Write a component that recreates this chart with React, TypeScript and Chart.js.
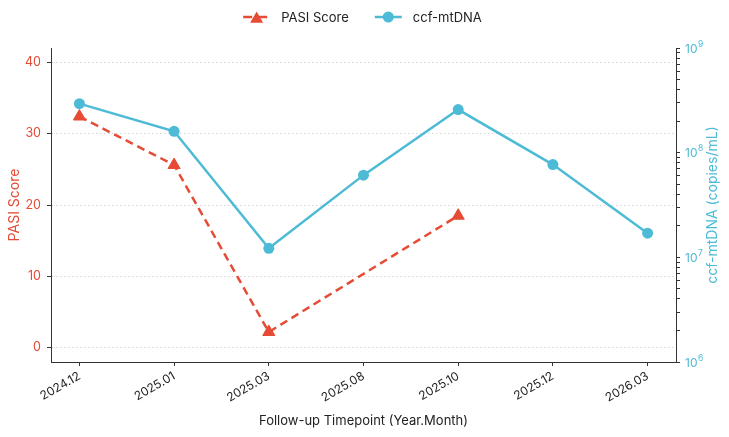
import React, { useEffect, useRef } from 'react';
import { Chart, registerables } from 'chart.js';

Chart.register(...registerables);

// ---- Data ----
const timepoints = ['2024.12', '2025.01', '2025.03', '2025.08', '2025.10', '2025.12', '2026.03'];
const pasiScore: (number | null)[] = [32.4, 25.6, 2.2, null, 18.5, null, null];
const ccfMtDNA: number[] = [2.94e8, 1.6e8, 1.22e7, 6.1e7, 2.58e8, 7.7e7, 1.7e7];
const pasiTicks = [0, 10, 20, 30, 40];
const logExponents = [6, 7, 8, 9];

const RED = '#E64B35';
const BLUE = '#4DBBD5';
const INK = '#222222';
const AXIS = '#333333';
const FONT = 'Inter, "DejaVu Sans", sans-serif';

const legendPlugin = {
  id: 'topLegend',
  afterDraw(chart: any) {
    const ctx: CanvasRenderingContext2D = chart.ctx;
    const datasets = chart.data.datasets;
    ctx.save();
    ctx.font = `13px ${FONT}`;
    const handle = 27;
    const pad = 11;
    const gap = 26;
    const widths = datasets.map((d: any) => ctx.measureText(d.label).width);
    let total = 0;
    datasets.forEach((_: any, i: number) => {
      total += handle + pad + widths[i];
    });
    total += gap * (datasets.length - 1);
    let x = chart.width / 2 - total / 2 - 2;
    const y = 17;
    datasets.forEach((d: any, i: number) => {
      ctx.strokeStyle = d.borderColor;
      ctx.lineWidth = d.borderWidth;
      ctx.setLineDash(d.borderDash ? [9, 6] : []);
      ctx.beginPath();
      ctx.moveTo(x, y);
      ctx.lineTo(x + handle, y);
      ctx.stroke();
      ctx.setLineDash([]);
      const cx = x + handle / 2;
      ctx.fillStyle = d.pointBackgroundColor;
      ctx.beginPath();
      if (d.pointStyle === 'triangle') {
        const r = d.pointRadius + 0.5;
        ctx.moveTo(cx, y - r * 0.75);
        ctx.lineTo(cx + (r * Math.sqrt(3)) / 2, y + r * 0.75);
        ctx.lineTo(cx - (r * Math.sqrt(3)) / 2, y + r * 0.75);
        ctx.closePath();
      } else {
        ctx.arc(cx, y, d.pointRadius, 0, Math.PI * 2);
      }
      ctx.fill();
      ctx.fillStyle = INK;
      ctx.textAlign = 'left';
      ctx.textBaseline = 'middle';
      ctx.fillText(d.label, x + handle + pad, y + 1);
      x += handle + pad + widths[i] + gap;
    });
    ctx.restore();
  },
};

const rightAxisTextPlugin = {
  id: 'rightAxisText',
  afterDraw(chart: any) {
    const ctx: CanvasRenderingContext2D = chart.ctx;
    const area = chart.chartArea;
    const scale = chart.scales.y1;
    ctx.save();
    // tick labels 10^n with a raised exponent
    ctx.fillStyle = BLUE;
    ctx.textAlign = 'left';
    ctx.textBaseline = 'middle';
    const lx = scale.left + 4 + 5;
    logExponents.forEach((e) => {
      const y = scale.getPixelForValue(Math.pow(10, e));
      ctx.font = `12px ${FONT}`;
      ctx.fillText('10', lx, y + 1);
      const w = ctx.measureText('10').width;
      ctx.font = `8.5px ${FONT}`;
      ctx.fillText(String(e), lx + w + 0.5, y - 4);
    });
    // axis title, reading bottom to top
    ctx.translate(713, (area.top + area.bottom) / 2);
    ctx.rotate(-Math.PI / 2);
    ctx.font = `14px ${FONT}`;
    ctx.textAlign = 'center';
    ctx.fillText('ccf-mtDNA (copies/mL)', 0, 0);
    ctx.restore();
  },
};

export default function App() {
  const canvasRef = useRef<HTMLCanvasElement | null>(null);

  useEffect(() => {
    document.body.style.margin = '0';
    const canvas = canvasRef.current;
    if (!canvas) return;

    const logTicks: { value: number }[] = [];
    logExponents.forEach((e, idx) => {
      if (idx === logExponents.length - 1) {
        logTicks.push({ value: Math.pow(10, e) });
      } else {
        for (let m = 1; m <= 9; m++) logTicks.push({ value: m * Math.pow(10, e) });
      }
    });

    const chart = new Chart(canvas, {
      type: 'line',
      data: {
        datasets: [
          {
            label: 'PASI Score',
            data: timepoints.map((_, i) => ({ x: i, y: pasiScore[i] })) as any,
            yAxisID: 'y',
            borderColor: RED,
            backgroundColor: RED,
            borderWidth: 2.5,
            borderDash: [8, 5],
            pointStyle: 'triangle',
            pointRadius: 7,
            pointBorderWidth: 1,
            pointBackgroundColor: RED,
            pointBorderColor: RED,
            spanGaps: true,
            tension: 0,
            order: 2,
          } as any,
          {
            label: 'ccf-mtDNA',
            data: timepoints.map((_, i) => ({ x: i, y: ccfMtDNA[i] })),
            yAxisID: 'y1',
            borderColor: BLUE,
            backgroundColor: BLUE,
            borderWidth: 2.5,
            pointStyle: 'circle',
            pointRadius: 5.5,
            pointBorderWidth: 0,
            pointBackgroundColor: BLUE,
            pointBorderColor: BLUE,
            tension: 0,
            order: 1,
          } as any,
        ],
      },
      options: {
        responsive: false,
        animation: false,
        devicePixelRatio: 1,
        layout: { padding: { top: 48, left: 0, right: 0, bottom: 0 } },
        plugins: {
          legend: { display: false },
          tooltip: { enabled: false },
        },
        scales: {
          x: {
            type: 'linear',
            position: 'bottom',
            min: -0.3,
            max: 6.3,
            afterBuildTicks: (s: any) => {
              s.ticks = timepoints.map((_, i) => ({ value: i }));
            },
            afterFit: (s: any) => {
              s.height = 75;
            },
            ticks: {
              autoSkip: false,
              minRotation: 30,
              maxRotation: 30,
              padding: 3,
              color: INK,
              font: { family: FONT, size: 12 },
              callback: (v: any) => timepoints[Number(v)] ?? '',
            },
            grid: {
              drawOnChartArea: false,
              drawTicks: true,
              tickLength: 4,
              tickColor: AXIS,
              tickWidth: 1,
            },
            border: { display: true, color: AXIS, width: 1 },
            title: {
              display: true,
              text: 'Follow-up Timepoint (Year.Month)',
              color: INK,
              font: { family: FONT, size: 13 },
              padding: { top: 0, bottom: 8 },
            },
          },
          y: {
            type: 'linear',
            position: 'left',
            min: -2,
            max: 42,
            afterBuildTicks: (s: any) => {
              s.ticks = pasiTicks.map((v) => ({ value: v }));
            },
            afterFit: (s: any) => {
              s.width = 51;
            },
            ticks: {
              color: RED,
              padding: 6,
              font: { family: FONT, size: 12.5 },
            },
            grid: {
              color: '#cccccc',
              lineWidth: 0.8,
              drawTicks: true,
              tickLength: 4,
              tickColor: AXIS,
              tickWidth: 1,
              tickBorderDash: [],
            },
            border: { display: true, color: AXIS, width: 1, dash: [1.5, 2.5] },
            title: {
              display: true,
              text: 'PASI Score',
              color: RED,
              font: { family: FONT, size: 14 },
              padding: { top: 6, bottom: 0 },
            },
          },
          y1: {
            type: 'logarithmic',
            position: 'right',
            min: 1e6,
            max: 1e9,
            afterBuildTicks: (s: any) => {
              s.ticks = logTicks.map((t) => ({ value: t.value }));
            },
            afterFit: (s: any) => {
              s.width = 53;
            },
            ticks: {
              autoSkip: false,
              color: BLUE,
              padding: 5,
              font: { family: FONT, size: 12 },
              callback: () => '',
            },
            grid: {
              drawOnChartArea: false,
              drawTicks: true,
              tickLength: 4,
              tickColor: AXIS,
              tickWidth: 1,
            },
            border: { display: true, color: AXIS, width: 1 },
            title: { display: false },
          },
        },
      } as any,
      plugins: [legendPlugin, rightAxisTextPlugin],
    });

    return () => {
      chart.destroy();
    };
  }, []);

  return (
    <div style={{ position: 'fixed', left: 0, top: 0, width: 729, height: 437, background: '#ffffff' }}>
      <canvas ref={canvasRef} width={729} height={437} style={{ display: 'block', width: 729, height: 437 }} />
    </div>
  );
}
